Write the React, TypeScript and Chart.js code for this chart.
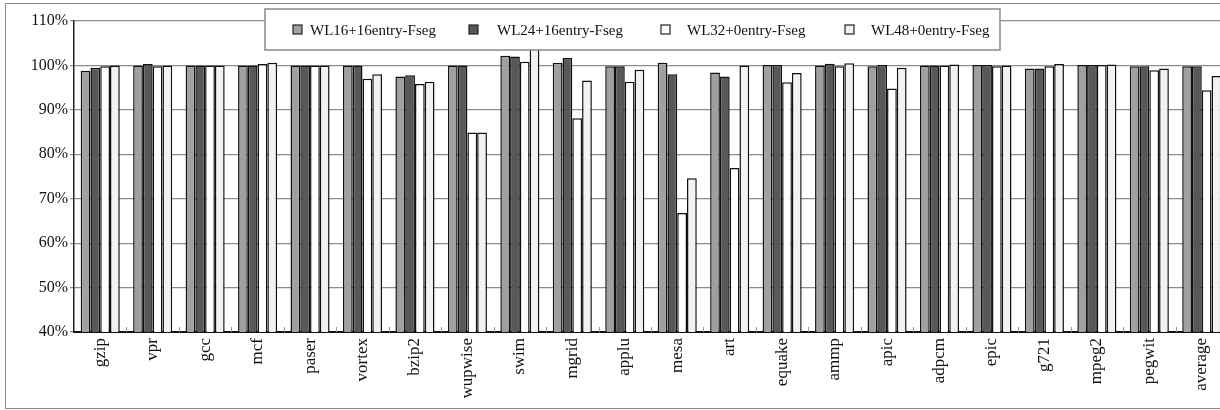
import { useEffect, useRef } from "react";
import { Chart, registerables } from "chart.js";

Chart.register(...registerables);

// Benchmarks along the x axis
const categories = [
  "gzip", "vpr", "gcc", "mcf", "paser", "vortex", "bzip2", "wupwise", "swim", "mgrid", "applu",
  "mesa", "art", "equake", "ammp", "apic", "adpcm", "epic", "g721", "mpeg2", "pegwit", "average",
];

const seriesNames = ["WL16+16entry-Fseg", "WL24+16entry-Fseg", "WL32+0entry-Fseg", "WL48+0entry-Fseg"];

// Normalised performance, percent
const wl16 = [98.8, 100, 100, 100, 100, 100, 97.5, 100, 102.2, 100.6, 99.8, 100.6, 98.4, 100.1, 100, 99.8, 100, 100.1, 99.3, 100.1, 99.8, 99.8];
const wl24 = [99.5, 100.3, 100, 100, 100, 100, 97.8, 100, 102, 101.7, 99.8, 98, 97.5, 100.1, 100.4, 100.1, 100, 100.1, 99.3, 100.1, 99.8, 99.8];
const wl32 = [99.8, 99.8, 100, 100.3, 100, 97, 95.8, 84.9, 100.8, 88.1, 96.3, 66.8, 76.9, 96.2, 99.8, 94.8, 100, 99.8, 99.8, 100.1, 98.9, 94.4];
const wl48 = [100, 100, 100, 100.6, 100, 98, 96.3, 84.9, 112, 96.6, 99, 74.6, 100, 98.3, 100.5, 99.5, 100.2, 100, 100.3, 100.2, 99.3, 97.6];

const yTicks = [40, 50, 60, 70, 80, 90, 100, 110];

const seriesColors = ["#a0a0a0", "#585858", "#ffffff", "#f2f2f2"];

const FONT = "'Liberation Serif', 'Times New Roman', serif";

// Short inward marks on the x axis between benchmark groups
const groupTicks = {
  id: "groupTicks",
  afterDatasetsDraw(chart: any) {
    const x = chart.scales.x;
    const bottom = chart.chartArea.bottom;
    const ctx = chart.ctx;
    ctx.save();
    ctx.strokeStyle = "#9a9a9a";
    ctx.lineWidth = 1;
    for (let i = 1; i < categories.length; i++) {
      const px = Math.round(x.getPixelForValue(i - 0.5)) + 0.5;
      ctx.beginPath();
      ctx.moveTo(px, bottom - 5);
      ctx.lineTo(px, bottom);
      ctx.stroke();
    }
    ctx.restore();
  },
};

// Boxed legend laid over the top of the plot
const boxLegend = {
  id: "boxLegend",
  afterDraw(chart: any) {
    const ctx = chart.ctx;
    const box = { x: 265, y: 9, w: 735, h: 41 };
    const markerX = [293, 469, 661, 845];
    const textX = [310, 497, 687, 871];
    const cy = 30;
    ctx.save();
    ctx.fillStyle = "#ffffff";
    ctx.fillRect(box.x, box.y, box.w, box.h);
    ctx.strokeStyle = "#8a8a8a";
    ctx.lineWidth = 1.5;
    ctx.strokeRect(box.x, box.y, box.w, box.h);
    ctx.font = `15px ${FONT}`;
    ctx.textBaseline = "middle";
    ctx.textAlign = "left";
    chart.data.datasets.forEach((ds: any, i: number) => {
      ctx.fillStyle = ds.backgroundColor;
      ctx.fillRect(markerX[i], cy - 5, 9, 9);
      ctx.strokeStyle = "#222";
      ctx.lineWidth = 1.2;
      ctx.strokeRect(markerX[i], cy - 5, 9, 9);
      ctx.fillStyle = "#111";
      ctx.fillText(ds.label, textX[i], cy + 1);
    });
    ctx.restore();
  },
};

export default function App() {
  const ref = useRef<HTMLCanvasElement | null>(null);

  useEffect(() => {
    if (!ref.current) return;
    const series = [wl16, wl24, wl32, wl48];
    const chart = new Chart(ref.current, {
      type: "bar",
      data: {
        labels: categories,
        datasets: series.map((values, i) => ({
          label: seriesNames[i],
          data: values,
          backgroundColor: seriesColors[i],
          borderColor: "#111",
          borderWidth: 1.5,
          barPercentage: 1,
          categoryPercentage: 0.745,
        })),
      },
      options: {
        responsive: false,
        animation: false,
        devicePixelRatio: 1,
        layout: { padding: { top: 21, right: 12, left: 0, bottom: 0 } },
        plugins: { legend: { display: false }, tooltip: { enabled: false } },
        scales: {
          x: {
            grid: { display: false, drawTicks: false },
            border: { display: true, color: "#111", width: 2 },
            ticks: {
              minRotation: 90,
              maxRotation: 90,
              autoSkip: false,
              padding: 6,
              color: "#111",
              font: { family: FONT, size: 17 },
            },
            afterFit: (s: any) => {
              s.height = 78;
            },
          },
          y: {
            min: 40,
            max: 110,
            afterBuildTicks: (s: any) => {
              s.ticks = yTicks.map((v) => ({ value: v }));
            },
            grid: { color: "#8c8c8c", lineWidth: 1.2, drawTicks: true, tickLength: 4 },
            border: { display: true, color: "#222", width: 1.5 },
            ticks: {
              padding: 2,
              color: "#111",
              font: { family: FONT, size: 16 },
              callback: (v: any) => `${v}%`,
            },
            afterFit: (s: any) => {
              s.width = 74;
            },
          },
        },
      },
      plugins: [groupTicks, boxLegend],
    });
    return () => chart.destroy();
  }, []);

  return (
    <div
      style={{
        position: "fixed",
        left: 0,
        top: 0,
        width: 1220,
        height: 410,
        overflow: "hidden",
        background: "#ffffff",
      }}
    >
      <div
        style={{
          position: "absolute",
          left: 5,
          top: 3,
          width: 1260,
          height: 406,
          border: "1.5px solid #8a8a8a",
          boxSizing: "border-box",
        }}
      />
      <canvas ref={ref} width={1240} height={410} style={{ position: "absolute", left: 0, top: 0, display: "block" }} />
    </div>
  );
}
